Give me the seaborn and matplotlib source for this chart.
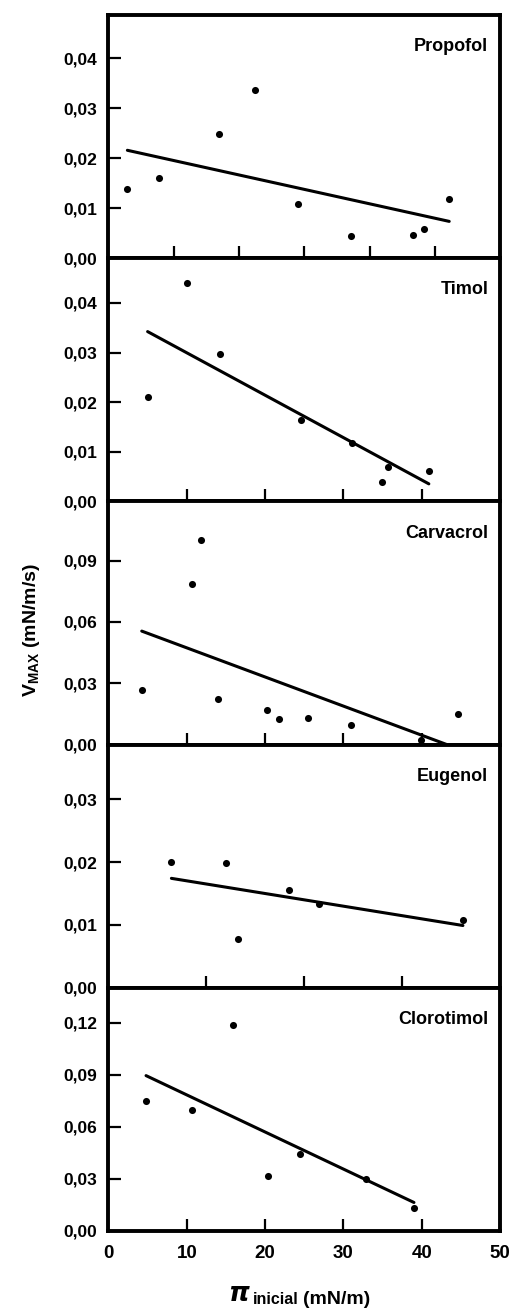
import numpy as np
import pandas as pd
import matplotlib
matplotlib.use("Agg")
import matplotlib.pyplot as plt
from matplotlib.ticker import FixedLocator, FuncFormatter
import seaborn as sns

# Values (pi inicial in mN/m, Vmax in mN/m/s)
propofol_x = [2.9, 7.8, 17.0, 22.4, 29.0, 37.2, 46.6, 48.4, 52.2]
propofol_y = [0.0139, 0.0161, 0.0248, 0.0337, 0.0108, 0.0044, 0.0046, 0.0058, 0.0119]

timol_x = [5.0, 10.0, 14.2, 24.6, 31.1, 34.9, 35.7, 40.9]
timol_y = [0.0210, 0.0440, 0.0298, 0.0165, 0.0117, 0.0040, 0.0069, 0.0062]

carvacrol_x = [4.25, 10.7, 11.8, 13.96, 20.26, 21.8, 25.5, 30.9, 39.9, 44.6]
carvacrol_y = [0.0266, 0.0788, 0.1000, 0.0225, 0.0170, 0.0123, 0.0130, 0.0094, 0.0025, 0.0151]

eugenol_x = [6.43, 11.98, 13.27, 18.48, 21.5, 36.2]
eugenol_y = [0.01995, 0.01985, 0.0077, 0.01552, 0.01327, 0.01075]

clorotimol_x = [4.8, 10.64, 15.95, 20.4, 24.5, 32.9, 39.0]
clorotimol_y = [0.0746, 0.0696, 0.1185, 0.0316, 0.0441, 0.0297, 0.0133]

names = ["Propofol", "Timol", "Carvacrol", "Eugenol", "Clorotimol"]
xs = [propofol_x, timol_x, carvacrol_x, eugenol_x, clorotimol_x]
ys = [propofol_y, timol_y, carvacrol_y, eugenol_y, clorotimol_y]
x_max = [60, 50, 50, 40, 50]
y_max = [0.0487, 0.049, 0.119, 0.0387, 0.14]
y_ticks = [
    [0.0, 0.01, 0.02, 0.03, 0.04],
    [0.0, 0.01, 0.02, 0.03, 0.04],
    [0.0, 0.03, 0.06, 0.09],
    [0.0, 0.01, 0.02, 0.03],
    [0.0, 0.03, 0.06, 0.09, 0.12],
]

sns.set_theme(style="white")
plt.rcParams["font.family"] = ["Liberation Sans", "DejaVu Sans"]
plt.rcParams["mathtext.fontset"] = "custom"
plt.rcParams["mathtext.bf"] = "Liberation Sans:bold"
plt.rcParams["mathtext.rm"] = "Liberation Sans:bold"
plt.rcParams["mathtext.default"] = "bf"
for key in ["text.color", "axes.labelcolor", "xtick.color", "ytick.color"]:
    plt.rcParams[key] = "black"

fig, axes = plt.subplots(5, 1, figsize=(5.14, 13.09), dpi=100)
fig.subplots_adjust(left=0.211, right=0.973, top=0.9885, bottom=0.0596, hspace=0)

comma = FuncFormatter(lambda v, pos: f"{v:.2f}".replace(".", ","))

for i, ax in enumerate(axes):
    df = pd.DataFrame({"x": xs[i], "y": ys[i]})
    sns.regplot(data=df, x="x", y="y", ax=ax, ci=None, truncate=True,
                scatter_kws=dict(s=26, color="black", alpha=1, linewidths=0, zorder=3),
                line_kws=dict(color="black", lw=2.2))
    ax.set_xlim(0, x_max[i])
    ax.set_ylim(0, y_max[i])
    ax.xaxis.set_major_locator(FixedLocator(list(range(0, x_max[i] + 1, 10))))
    ax.yaxis.set_major_locator(FixedLocator(y_ticks[i]))
    ax.yaxis.set_major_formatter(comma)
    ax.tick_params(axis="both", direction="in", length=9, width=1.6, color="black",
                   labelcolor="black", left=True, bottom=True, right=False, top=False)
    ax.tick_params(axis="y", labelsize=12.5, pad=8)
    ax.tick_params(axis="x", labelsize=13.5, pad=10)
    for lab in ax.get_yticklabels() + ax.get_xticklabels():
        lab.set_fontweight("bold")
    for sp in ax.spines.values():
        sp.set_linewidth(2.8)
        sp.set_color("black")
    ax.set_xlabel("")
    ax.set_ylabel("")
    if i < 4:
        ax.tick_params(axis="x", labelbottom=False)
    ax.text(0.97, 0.87, names[i], transform=ax.transAxes, ha="right", va="center",
            fontsize=13, fontweight="bold", color="black")

# axis titles
fig.text(32 / 514, 1 - 630 / 1309, r"V$_{\mathbf{MAX}}$ (mN/m/s)", rotation=90,
         ha="center", va="center", fontsize=14, fontweight="bold")

t_pi = fig.text(228 / 514, 1 - 1301 / 1309, "π", fontsize=19, fontweight="bold",
                style="italic", family=["DejaVu Sans"], ha="left", va="baseline")
t_sub = fig.axes[0].annotate("inicial", xy=(1, 0), xycoords=t_pi, xytext=(3, 0),
                             textcoords="offset points", ha="left", va="bottom",
                             fontsize=11.5, fontweight="bold")
fig.axes[0].annotate("(mN/m)", xy=(1, 0), xycoords=t_sub, xytext=(3, -1),
                     textcoords="offset points", ha="left", va="bottom",
                     fontsize=14, fontweight="bold")

fig.savefig("out.png", dpi=100, facecolor="white")
